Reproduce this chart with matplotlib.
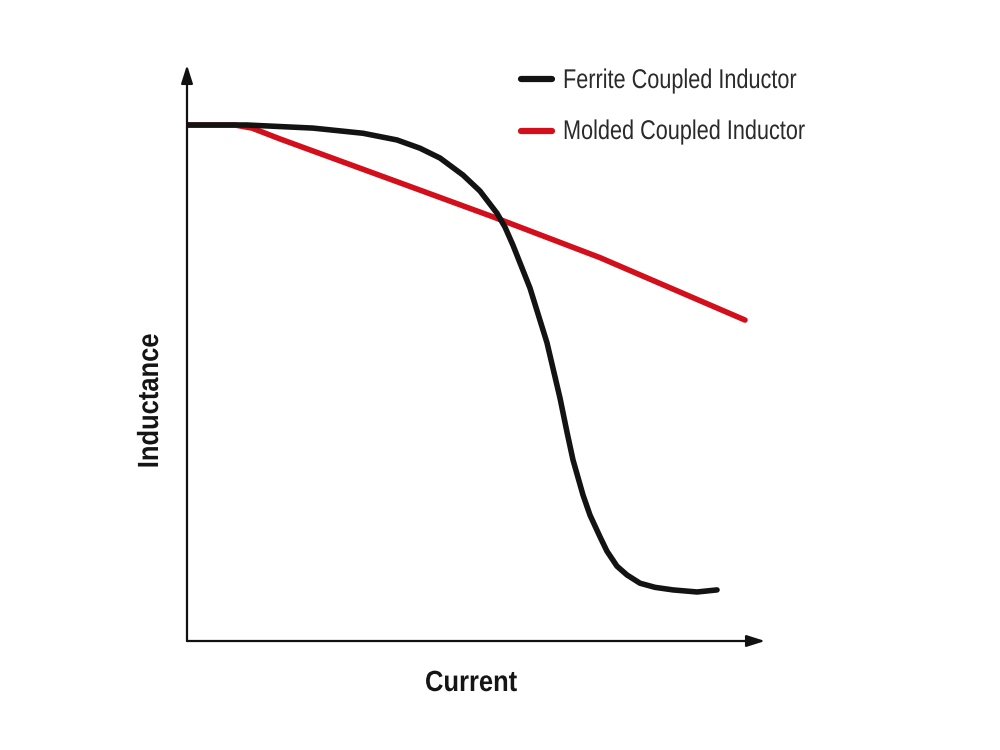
import matplotlib.pyplot as plt
from matplotlib.lines import Line2D
from matplotlib.patheffects import AbstractPathEffect
from matplotlib.transforms import Affine2D
from matplotlib import font_manager

# values (arbitrary units, inductance normalised to start = 1)
ferrite_current = [0.000, 1.038, 2.180, 3.045, 3.633, 4.031, 4.377, 4.775, 5.069, 5.363,
                   5.502, 5.640, 5.934, 6.228, 6.453, 6.574, 6.678, 6.851, 6.972, 7.145,
                   7.266, 7.439, 7.612, 7.837, 8.097, 8.408, 8.824, 9.170]
ferrite_induct = [1.000, 1.000, 0.994, 0.984, 0.971, 0.955, 0.936, 0.903, 0.872, 0.829,
                  0.802, 0.767, 0.684, 0.578, 0.471, 0.405, 0.351, 0.283, 0.244, 0.202,
                  0.174, 0.145, 0.128, 0.112, 0.104, 0.099, 0.095, 0.099]

molded_current = [0.000, 0.830, 1.125, 1.609, 3.685, 5.294, 7.145, 9.654]
molded_induct = [1.000, 1.000, 0.994, 0.973, 0.888, 0.822, 0.743, 0.622]

labels = ['Ferrite Coupled Inductor', 'Molded Coupled Inductor']
colors = ['#131313', '#d20f1b']


class Squeeze(AbstractPathEffect):
    """squash glyphs around a point given in figure fraction (fake condensed font)"""

    def __init__(self, fig, fx, fy, sx=1.0, sy=1.0):
        super().__init__()
        self.fig, self.fx, self.fy, self.sx, self.sy = fig, fx, fy, sx, sy

    def draw_path(self, renderer, gc, tpath, affine, rgbFace=None):
        x0, y0 = self.fig.transFigure.transform((self.fx, self.fy))
        squash = Affine2D().translate(-x0, -y0).scale(self.sx, self.sy).translate(x0, y0)
        renderer.draw_path(gc, tpath, affine + squash, rgbFace)


names = {f.name for f in font_manager.fontManager.ttflist}
fam = 'Liberation Sans' if 'Liberation Sans' in names else 'DejaVu Sans'

fig = plt.figure(figsize=(10, 7.5), dpi=100)
ax = fig.add_axes([0.187, (750 - 641) / 750, (765 - 187) / 1000, (641 - 65) / 750])
ax.set_xlim(0, 10)
ax.set_ylim(0, (641 - 65) / 516)
ax.axis('off')

ax.plot(molded_current, molded_induct, color=colors[1], lw=4,
        solid_capstyle='round', solid_joinstyle='round')
ax.plot(ferrite_current, ferrite_induct, color=colors[0], lw=4,
        solid_capstyle='round', solid_joinstyle='round')

# axes with arrow heads
arrow = dict(arrowstyle='-|>,head_length=1.1,head_width=0.35', color='#111111', lw=1.6,
             shrinkA=0, shrinkB=0)
ax.annotate('', xy=(10, 0), xytext=(0, 0), arrowprops=arrow, annotation_clip=False)
ax.annotate('', xy=(0, (641 - 65) / 516), xytext=(0, 0), arrowprops=arrow,
            annotation_clip=False)

# axis labels (bold, condensed)
cx, cy = 0.471, 1 - 691 / 750
fig.text(cx, cy, 'Current', family=fam, weight='bold', fontsize=21, ha='center',
         va='baseline', color='#151515', path_effects=[Squeeze(fig, cx, cy, sx=0.875)])
ix, iy = 0.158, 1 - 401 / 750
fig.text(ix, iy, 'Inductance', family=fam, weight='bold', fontsize=21, ha='center',
         va='baseline', rotation=90, rotation_mode='anchor', color='#151515',
         path_effects=[Squeeze(fig, ix, iy, sy=0.875)])

# legend
for i, (lab, col) in enumerate(zip(labels, colors)):
    y = 1 - (79 + 52 * i) / 750
    fig.add_artist(Line2D([0.521, 0.552], [y, y], color=col, lw=4.5, solid_capstyle='round'))
    tx, ty = 0.563, 1 - (88 + 51 * i) / 750
    fig.text(tx, ty, lab, family=fam, fontsize=19.5, ha='left', va='baseline',
             color='#2a2a2a', path_effects=[Squeeze(fig, tx, ty, sx=0.80)])

fig.savefig('out.png')
